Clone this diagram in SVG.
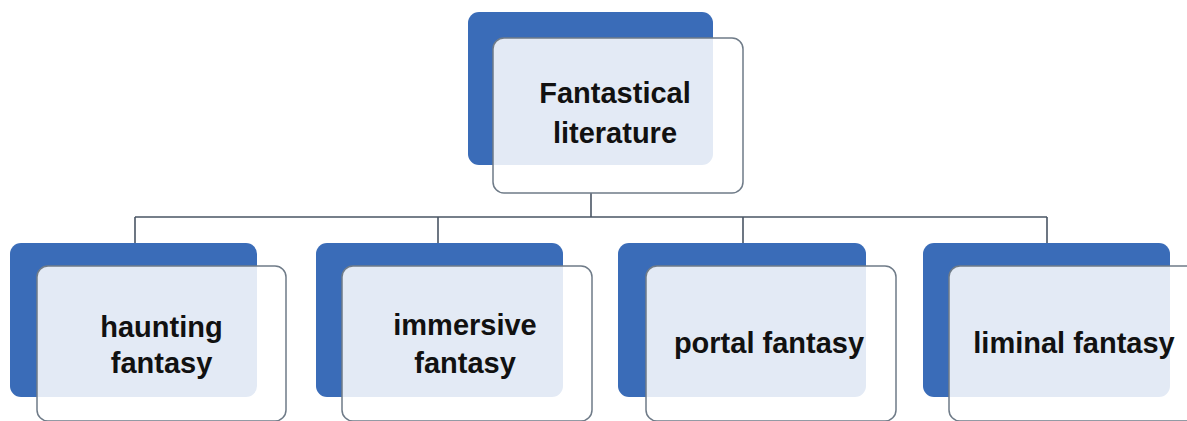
<svg xmlns="http://www.w3.org/2000/svg" width="1187" height="421" viewBox="0 0 1187 421">
<style>
.back{fill:#3a6cb8;}
.front{fill:#ffffff;fill-opacity:0.86;stroke:#6f7b88;stroke-width:1.5;}
.conn{fill:none;stroke:#4a5564;stroke-width:1.6;}
.lbl{font-family:"Liberation Sans",Arial,sans-serif;font-weight:bold;font-size:29px;fill:#111;text-anchor:middle;}
</style>
<rect width="1187" height="421" fill="#ffffff"/>
<g id="connectors">
<path class="conn" d="M591 193 V217 M135 217 H1047 M135 217 V243 M438 217 V243 M743 217 V243 M1047 217 V243"/>
</g>
<g id="node-root">
<rect class="back" x="468" y="12" width="245" height="153" rx="11"/>
<rect class="front" x="493" y="38" width="250" height="155" rx="11"/>
<text class="lbl" x="615" y="103">Fantastical</text>
<text class="lbl" x="615" y="143">literature</text>
</g>
<g id="node-haunting">
<rect class="back" x="10" y="243" width="247" height="154" rx="11"/>
<rect class="front" x="37" y="266" width="249" height="155" rx="11"/>
<text class="lbl" x="161.5" y="337">haunting</text>
<text class="lbl" x="161.5" y="373">fantasy</text>
</g>
<g id="node-immersive">
<rect class="back" x="316" y="243" width="247" height="154" rx="11"/>
<rect class="front" x="342" y="266" width="250" height="155" rx="11"/>
<text class="lbl" x="465" y="335">immersive</text>
<text class="lbl" x="465" y="373">fantasy</text>
</g>
<g id="node-portal">
<rect class="back" x="618" y="243" width="248" height="154" rx="11"/>
<rect class="front" x="646" y="266" width="250" height="155" rx="11"/>
<text class="lbl" x="769" y="353">portal fantasy</text>
</g>
<g id="node-liminal">
<rect class="back" x="923" y="243" width="247" height="154" rx="11"/>
<rect class="front" x="949" y="266" width="250" height="155" rx="11"/>
<text class="lbl" x="1074" y="353">liminal fantasy</text>
</g>
</svg>
